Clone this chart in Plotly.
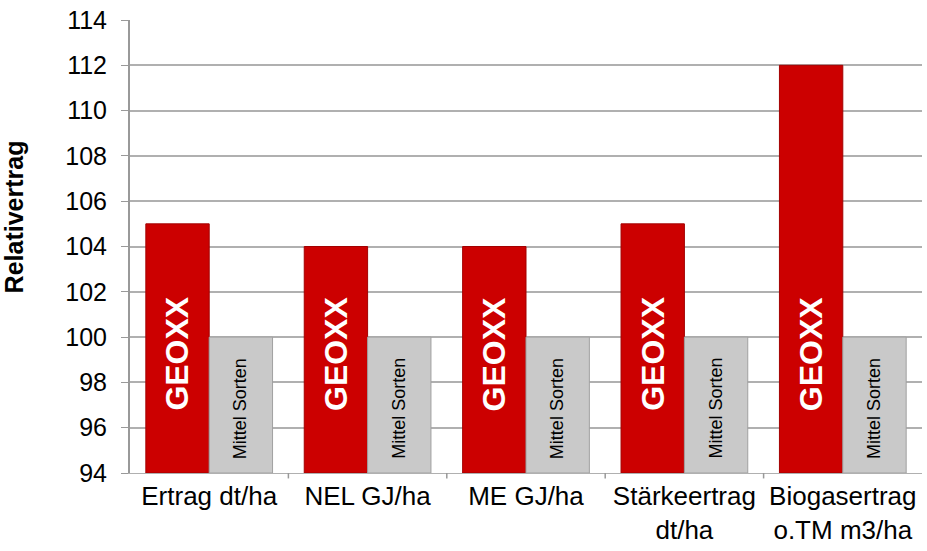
import plotly.graph_objects as go

categories = ["Ertrag dt/ha", "NEL GJ/ha", "ME GJ/ha", "Stärkeertrag<br>dt/ha", "Biogasertrag<br>o.TM m3/ha"]
geoxx = [105, 104, 104, 105, 112]
mittel = [100, 100, 100, 100, 100]
y_ticks = list(range(94, 115, 2))

base = 94
fig = go.Figure()
fig.add_trace(go.Bar(
    x=list(range(len(categories))), y=[v - base for v in geoxx], base=base,
    name="GEOXX", marker=dict(color="#cc0000", line=dict(color="#a30000", width=1)),
))
fig.add_trace(go.Bar(
    x=list(range(len(categories))), y=[v - base for v in mittel], base=base,
    name="Mittel Sorten", marker=dict(color="#c9c9c9", line=dict(color="#a0a0a0", width=1)),
))

for i in range(len(categories)):
    fig.add_annotation(x=i - 0.2, y=99.25, text="<b>GEOXX</b>", textangle=-90, showarrow=False,
                       font=dict(family="Liberation Sans", size=32, color="white"))
    fig.add_annotation(x=i + 0.2, y=(base + mittel[i]) / 2 - 0.15, text="Mittel Sorten", textangle=-90,
                       showarrow=False, font=dict(family="Liberation Sans", size=18, color="black"))

fig.add_annotation(xref="paper", yref="paper", x=-0.146, y=0.565, xanchor="center", yanchor="middle",
                   text="<b>Relativertrag</b>", textangle=-90, showarrow=False,
                   font=dict(family="Liberation Sans", size=25, color="black"))

fig.update_layout(
    width=927, height=551,
    margin=dict(l=130, r=5, t=20, b=78),
    paper_bgcolor="white", plot_bgcolor="white",
    barmode="group", bargap=0.2, bargroupgap=0,
    showlegend=False,
    font=dict(family="Liberation Sans", size=24, color="black"),
)
fig.update_yaxes(
    range=[94, 114], tickvals=y_ticks, ticks="outside", ticklen=7, tickcolor="#999999",
    showgrid=True, gridcolor="#b0b0b0", gridwidth=2,
    showline=True, linecolor="#999999", linewidth=2,
    tickfont=dict(size=25), zeroline=False, automargin=False, ticklabelstandoff=9,
)
fig.update_xaxes(
    range=[-0.5, len(categories) - 0.5],
    tickvals=list(range(len(categories))), ticktext=categories,
    showline=True, linecolor="#b0b0b0", linewidth=1,
    tickfont=dict(size=26), ticks="", showgrid=False, automargin=False,
)
for b in [0.5, 1.5, 2.5, 3.5]:
    fig.add_shape(type="line", xref="x", yref="paper", x0=b, x1=b, y0=0, y1=-0.012,
                  line=dict(color="#999999", width=1.5))

fig.write_html("out.html", config={"displayModeBar": False},
               post_script="document.body.style.margin='0';document.body.style.overflow='hidden';")
